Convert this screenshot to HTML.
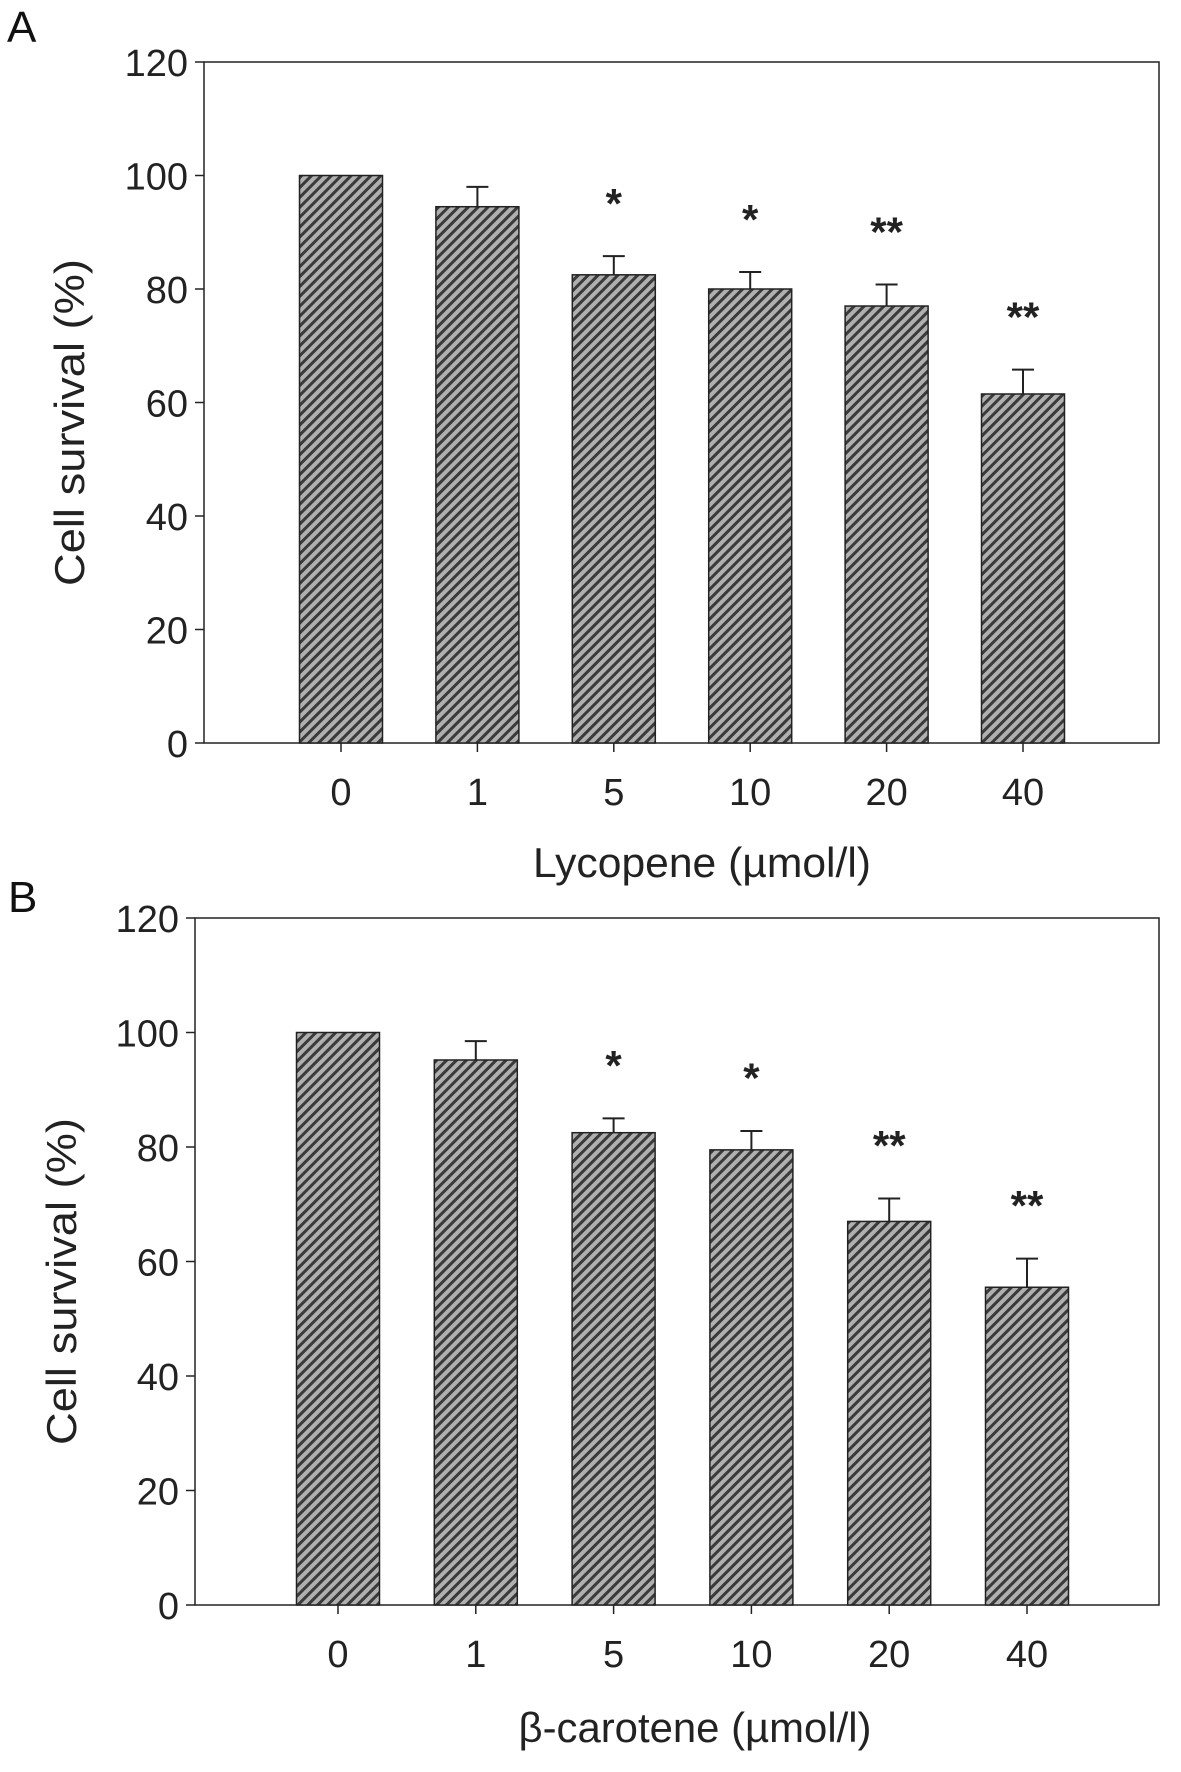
<!DOCTYPE html>
<html><head><meta charset="utf-8"><style>
html,body{margin:0;padding:0;background:#fff;}
svg{display:block;font-family:"Liberation Sans",Arial,sans-serif;}
</style></head><body>
<svg id="fig" width="1181" height="1772" viewBox="0 0 1181 1772">
<defs>
<pattern id="hatch" patternUnits="userSpaceOnUse" width="7" height="7" patternTransform="rotate(45)">
<rect width="7" height="7" fill="#b0b0b0"/>
<rect width="3" height="7" fill="#3a3a3a"/>
</pattern>
</defs>
</svg>
<script>
const categories = ['0','1','5','10','20','40'];
const lycopeneValues = [100, 94.5, 82.5, 80, 77, 61.5];
const lycopeneErrors = [0, 3.5, 3.3, 3.0, 3.8, 4.3];
const caroteneValues = [100, 95.2, 82.5, 79.5, 67, 55.5];
const caroteneErrors = [0, 3.3, 2.5, 3.3, 4.0, 5.0];
const significance = ['', '', '*', '*', '**', '**'];
const yTicks = [0, 20, 40, 60, 80, 100, 120];

const NS = 'http://www.w3.org/2000/svg';
const svg = document.getElementById('fig');
function mk(tag, attrs, parent){const e=document.createElementNS(NS,tag);for(const k in attrs)e.setAttribute(k,attrs[k]);(parent||svg).appendChild(e);return e;}

function panel(cfg){
  const g = mk('g', {});
  
  
  const yS = v => cfg.y0 - (v/120)*(cfg.y0-cfg.yTop);
  const step = (cfg.lastC - cfg.firstC)/(categories.length-1);
  const xS = i => cfg.firstC + i*step;
  const bw = 83;
  const fr = mk('rect', {x:cfg.left, y:cfg.yTop, width:cfg.right-cfg.left, height:cfg.y0-cfg.yTop, fill:'none', stroke:'#222', 'stroke-width':1.5}, g);
  
  
  yTicks.forEach(t=>{
    const y=yS(t);
    const tk = mk('line',{x1:cfg.left-9,x2:cfg.left,y1:y,y2:y,stroke:'#222','stroke-width':1.5},g);
    
    
    const tl = mk('text',{x:cfg.left-16,y:y+14,'text-anchor':'end','font-size':38,fill:'#222'},g);
    tl.textContent=t;
    
    
  });
  categories.forEach((c,i)=>{
    const cx=xS(i), v=cfg.values[i], e=cfg.errors[i];
    const tk = mk('line',{x1:cx,x2:cx,y1:cfg.y0,y2:cfg.y0+9,stroke:'#222','stroke-width':1.5},g);
    
    
    if(e>0){
      const el = mk('path',{d:`M${cx},${yS(v)} V${yS(v+e)} M${cx-11},${yS(v+e)} H${cx+11}`,stroke:'#222','stroke-width':2,fill:'none'},g);
      
      
    }
    const b = mk('rect',{x:cx-bw/2,y:yS(v),width:bw,height:yS(0)-yS(v),fill:'url(#hatch)',stroke:'#222','stroke-width':1.5},g);
    
    
    const tl = mk('text',{x:cx,y:cfg.y0+62,'text-anchor':'middle','font-size':38,fill:'#222'},g);
    tl.textContent=c;
    
    
    if(significance[i]){
      const s = mk('text',{x:cx,y:yS(v+e+9)+13,'text-anchor':'middle','font-size':42,'font-weight':'bold',fill:'#222'},g);
      s.textContent=significance[i];
      
      
    }
  });
  const yt = mk('text',{x:0,y:0,'text-anchor':'middle','font-size':42,fill:'#222',textLength:327,lengthAdjust:'spacingAndGlyphs',transform:`translate(${cfg.ytX},${(cfg.y0+cfg.yTop)/2+20}) rotate(-90)`},g);
  yt.textContent='Cell survival (%)';
  
  
  const xt = mk('text',{x:cfg.xtX,y:cfg.xtY,'text-anchor':'middle','font-size':42,fill:'#222',textLength:cfg.xtLen,lengthAdjust:'spacingAndGlyphs'},g);
  xt.textContent=cfg.xTitle;
  
  
  const pl = mk('text',{x:cfg.lblX,y:cfg.lblY,'font-size':44,fill:'#111'},g);
  pl.textContent=cfg.label;
  
  
}
panel({name:'panel-a',left:204,right:1159,yTop:62,y0:743,firstC:341,lastC:1023,values:lycopeneValues,errors:lycopeneErrors,ytX:84,xtX:702,xtY:877,xtLen:338,xTitle:'Lycopene (µmol/l)',label:'A',lblX:7,lblY:42});
panel({name:'panel-b',left:195,right:1159,yTop:918,y0:1605,firstC:338,lastC:1027,values:caroteneValues,errors:caroteneErrors,ytX:76,xtX:695,xtY:1742,xtLen:353,xTitle:'β-carotene (µmol/l)',label:'B',lblX:8,lblY:912});
</script>
</body></html>
